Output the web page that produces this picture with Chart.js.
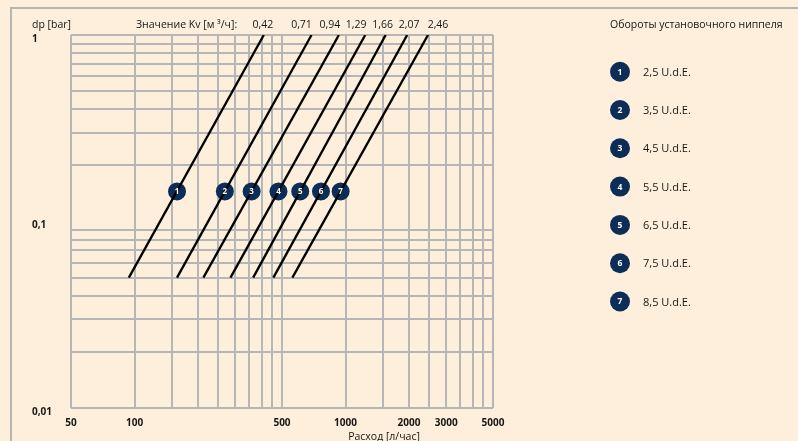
<!DOCTYPE html>
<html>
<head>
<meta charset="utf-8">
<script src="https://cdn.jsdelivr.net/npm/chart.js@4/dist/chart.umd.min.js"></script>
<style>
  html, body { margin: 0; padding: 0; background: #fdefdb; }
  canvas { display: block; }
</style>
</head>
<body>
<canvas id="chart" width="798" height="441"></canvas>
<script>
// Значения Kv [м³/ч] над линиями
const kvLabels = ['0,42', '0,71', '0,94', '1,29', '1,66', '2,07', '2,46'];
// Обороты установочного ниппеля
const turnLabels = ['2,5 U.d.E.', '3,5 U.d.E.', '4,5 U.d.E.', '5,5 U.d.E.', '6,5 U.d.E.', '7,5 U.d.E.', '8,5 U.d.E.'];

// Расход [л/час] на концах линий (снизу при dp = 0,05, сверху при dp = 1)
const flowBottom = [94, 159, 212, 285, 365, 455, 560];
const flowTop = [410, 690, 930, 1240, 1550, 1960, 2460];
const dpBottom = 0.05;
const dpTop = 1;

// Кружки с номерами на линиях
const markerFlow = [159, 268, 359, 481, 610, 765, 948];
const markerDp = 0.145;

// Сетка и подписи осей
const xGrid = [50, 100, 150, 200, 250, 300, 350, 400, 450, 500, 1000, 1500, 2000, 2500, 3000, 3500, 4000, 4500, 5000];
const xTickLabels = [50, 100, 500, 1000, 2000, 3000, 5000];
const yGrid = [1, 0.9, 0.8, 0.7, 0.6, 0.5, 0.4, 0.3, 0.2, 0.1, 0.09, 0.08, 0.07, 0.06, 0.05, 0.04, 0.03, 0.02, 0.01];
const yTickValues = [1, 0.1, 0.01];
const yTickLabels = ['1', '0,1', '0,01'];

const NAVY = '#0b2d57';
const GRID = '#b6b6b6';
const TEXT = '#161616';
const FONT = "'Open Sans', 'Noto Sans', sans-serif";

const datasets = flowBottom.map((q, i) => ({
  type: 'line',
  data: [{ x: q, y: dpBottom }, { x: flowTop[i], y: dpTop }],
  borderColor: '#000',
  borderWidth: 2.3,
  pointRadius: 0,
  fill: false,
}));

datasets.push({
  type: 'scatter',
  data: markerFlow.map(q => ({ x: q, y: markerDp })),
  pointRadius: 9,
  pointHoverRadius: 9,
  backgroundColor: NAVY,
  borderColor: NAVY,
  borderWidth: 0,
});
const MARKERS = datasets.length - 1;

const decorPlugin = {
  id: 'decor',
  beforeDraw(chart) {
    const ctx = chart.ctx;
    ctx.save();
    ctx.fillStyle = '#fdefdb';
    ctx.fillRect(0, 0, chart.width, chart.height);
    // рамка
    ctx.strokeStyle = GRID;
    ctx.lineWidth = 2;
    ctx.beginPath();
    ctx.moveTo(11, chart.height);
    ctx.lineTo(11, 8);
    ctx.lineTo(chart.width, 8);
    ctx.stroke();
    ctx.restore();
  },
  afterDraw(chart) {
    const ctx = chart.ctx;
    ctx.save();
    ctx.fillStyle = TEXT;
    ctx.textBaseline = 'middle';
    ctx.font = `10.5px ${FONT}`;
    ctx.textAlign = 'left';
    ctx.fillText('dp [bar]', 32, 25);
    ctx.fillText('Значение Kv [м ³/ч]:', 136, 25);

    // значения Kv над верхними концами линий
    const nudge = [-1, -10, -9, -9, -3, 2, 10];
    ctx.textAlign = 'center';
    kvLabels.forEach((t, i) => {
      const top = chart.getDatasetMeta(i).data[1];
      ctx.fillText(t, top.x + nudge[i], 25);
    });

    // подпись оси X
    ctx.fillText('Расход [л/час]', 384, 437);

    // номера в кружках
    ctx.fillStyle = '#fff';
    ctx.font = `bold 8px ${FONT}`;
    chart.getDatasetMeta(MARKERS).data.forEach((p, i) => {
      ctx.fillText(String(i + 1), p.x, p.y + 0.5);
    });

    // легенда справа
    ctx.textAlign = 'left';
    ctx.fillStyle = TEXT;
    ctx.font = `10.5px ${FONT}`;
    ctx.fillText('Обороты установочного ниппеля', 610, 25);
    turnLabels.forEach((t, i) => {
      const cy = 71.7 + i * 38.3;
      ctx.fillStyle = NAVY;
      ctx.beginPath();
      ctx.arc(620, cy, 10, 0, Math.PI * 2);
      ctx.fill();
      ctx.fillStyle = '#fff';
      ctx.textAlign = 'center';
      ctx.font = `bold 8.5px ${FONT}`;
      ctx.fillText(String(i + 1), 620, cy + 0.5);
      ctx.fillStyle = TEXT;
      ctx.textAlign = 'left';
      ctx.font = `11px ${FONT}`;
      ctx.fillText(t, 643, cy + 1);
    });
    ctx.restore();
  },
};

new Chart(document.getElementById('chart'), {
  data: { datasets },
  options: {
    responsive: false,
    animation: false,
    devicePixelRatio: 1,
    layout: { padding: { left: 32, top: 35, right: 305, bottom: 0 } },
    plugins: {
      legend: { display: false },
      tooltip: { enabled: false },
    },
    scales: {
      x: {
        type: 'logarithmic',
        min: 50,
        max: 5000,
        afterBuildTicks: scale => { scale.ticks = xGrid.map(v => ({ value: v })); },
        afterFit: scale => { scale.height = 33; },
        border: { display: false },
        grid: { color: GRID, lineWidth: 2, drawTicks: false, tickLength: 0 },
        ticks: {
          autoSkip: false,
          maxRotation: 0,
          padding: 9,
          color: TEXT,
          font: { family: FONT, size: 10, weight: 'bold' },
          callback: v => (xTickLabels.includes(v) ? String(v) : ''),
        },
      },
      y: {
        type: 'logarithmic',
        min: 0.01,
        max: 1,
        afterBuildTicks: scale => { scale.ticks = yGrid.map(v => ({ value: v })); },
        afterFit: scale => { scale.width = 39; },
        border: { display: false },
        grid: {
          color: c => (c.tick && c.tick.value === 0.1 ? 'rgba(0,0,0,0)' : GRID),
          lineWidth: 2,
          drawTicks: false,
          tickLength: 0,
        },
        ticks: {
          autoSkip: false,
          crossAlign: 'far',
          padding: 0,
          labelOffset: 4,
          color: TEXT,
          font: { family: FONT, size: 10, weight: 'bold' },
          callback: v => {
            const k = yTickValues.indexOf(v);
            return k >= 0 ? yTickLabels[k] : '';
          },
        },
      },
    },
  },
  plugins: [decorPlugin],
});
</script>
</body>
</html>
